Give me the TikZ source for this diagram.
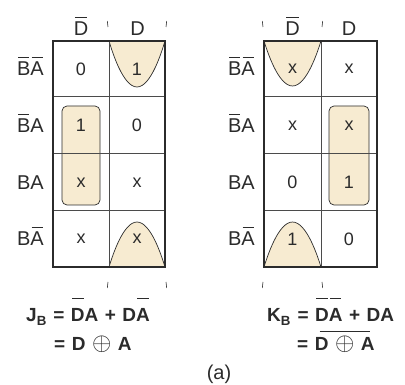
\documentclass[tikz,border=0pt]{standalone}
\usepackage{fontspec}
\setmainfont{Liberation Sans}
\definecolor{cream}{HTML}{F7EBD1}
\definecolor{ink}{HTML}{2B2B2B}
\newcommand\ovl[2][0.2em]{\sbox0{#2}\makebox[0pt][l]{\hspace*{0.08\wd0}\rule[\dimexpr\ht0+#1\relax]{0.84\wd0}{0.055em}}\usebox0}
\newcommand\gp{\hspace{6.5pt}}
\newcommand\xor{{\fontsize{25}{25}\selectfont$\oplus$}}
\begin{document}
\begin{tikzpicture}[x=1pt,y=-1pt,
  lbl/.style={font=\fontsize{20}{24}\selectfont, text=ink, inner sep=0pt, anchor=base},
  cellv/.style={font=\fontsize{18}{22}\selectfont, text=ink, inner sep=0pt},
  eq/.style={font=\fontsize{19}{23}\selectfont\bfseries, text=ink, inner sep=0pt, anchor=base west},
  grp/.style={fill=cream, draw=ink, line width=0.7pt},
  outer/.style={draw=ink, line width=1.3pt},
  inner/.style={draw=ink!85, line width=1pt},
  tick/.style={draw=ink, line width=0.6pt}]
\useasboundingbox (0,0) rectangle (405,385);
% ---- group fills (left map)
\filldraw[grp] (109,41) parabola bend (137,87) (165,41) -- cycle;
\filldraw[grp] (109,267) parabola bend (137,222) (165,267) -- cycle;
\filldraw[grp, rounded corners=5pt] (62,106) rectangle (100,205);
% ---- group fills (right map)
\filldraw[grp] (264,41) parabola bend (292.5,86) (321,41) -- cycle;
\filldraw[grp] (264,267) parabola bend (292.5,222) (321,267) -- cycle;
\filldraw[grp, rounded corners=5pt] (329,106) rectangle (369,205);
% ---- grids
\draw[inner] (109,41) -- (109,267);
\draw[inner] (53,97) -- (165,97) (53,154) -- (165,154) (53,211) -- (165,211);
\draw[outer] (53,41) rectangle (165,267);
\draw[inner] (321,41) -- (321,267);
\draw[inner] (264,97) -- (377,97) (264,154) -- (377,154) (264,211) -- (377,211);
\draw[outer] (264,41) rectangle (377,267);
% ---- ticks
\draw[tick] (108,27) -- (107.3,21) (166,27) -- (166.7,21);
\draw[tick] (108,282) -- (107.3,288) (166,282) -- (166.7,288);
\draw[tick] (263,27) -- (262.3,21) (322,27) -- (322.7,21);
\draw[tick] (263,282) -- (262.3,288) (322,282) -- (322.7,288);
% ---- column headers
\node[lbl] (lcd0) at (81,36) {\ovl{D}};
\node[lbl] (lcd1) at (137.5,36) {D};
\node[lbl] (rcd0) at (292.5,36) {\ovl{D}};
\node[lbl] (rcd1) at (349,36) {D};
% ---- row labels
\node[lbl, anchor=base east] (lr1) at (44,76) {\ovl{B}\ovl{A}};
\node[lbl, anchor=base east] (lr2) at (44,132.5) {\ovl{B}A};
\node[lbl, anchor=base east] (lr3) at (44,189.5) {BA};
\node[lbl, anchor=base east] (lr4) at (44,246) {B\ovl{A}};
\node[lbl, anchor=base east] (rr1) at (255,76) {\ovl{B}\ovl{A}};
\node[lbl, anchor=base east] (rr2) at (255,132.5) {\ovl{B}A};
\node[lbl, anchor=base east] (rr3) at (255,189.5) {BA};
\node[lbl, anchor=base east] (rr4) at (255,246) {B\ovl{A}};
% ---- left cells
\node[cellv] (l11) at (81,69) {0};
\node[cellv] (l12) at (137,69) {1};
\node[cellv] (l21) at (81,125.5) {1};
\node[cellv] (l22) at (137,125.5) {0};
\node[cellv] (l31) at (81,182.5) {x};
\node[cellv] (l32) at (137,182.5) {x};
\node[cellv] (l41) at (81,239) {x};
\node[cellv] (l42) at (137,239) {x};
% ---- right cells
\node[cellv] (r11) at (292.5,69) {x};
\node[cellv] (r12) at (349,69) {x};
\node[cellv] (r21) at (292.5,125.5) {x};
\node[cellv] (r22) at (349,125.5) {x};
\node[cellv] (r31) at (292.5,182.5) {0};
\node[cellv] (r32) at (349,182.5) {1};
\node[cellv] (r41) at (292.5,239) {1};
\node[cellv] (r42) at (349,239) {0};
% ---- equations
\node[eq] (jb1) at (26,322) {J\textsubscript{B}\gp=\gp\ovl[0.5em]{D}A\gp+\gp D\ovl[0.5em]{A}};
\node[eq] (jb2) at (54,351) {=\gp D\gp\xor\gp A};
\node[eq] (kb1) at (267,322) {K\textsubscript{B}\gp=\gp\ovl[0.5em]{D}\ovl[0.5em]{A}\gp+\gp DA};
\node[eq] (kb2) at (297,351) {=\gp\ovl[0.25em]{D\gp\xor\gp A}};
\node[lbl] (cap) at (219,380) {(a)};
\end{tikzpicture}
\end{document}
